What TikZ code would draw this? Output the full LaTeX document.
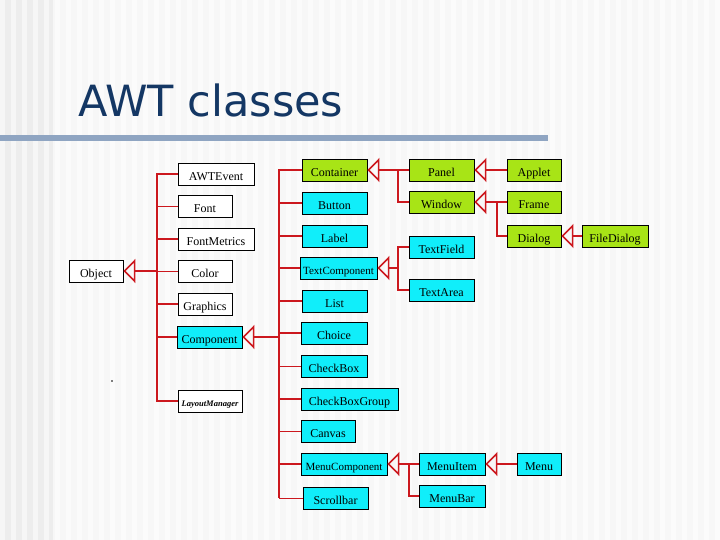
\documentclass[tikz,border=0pt]{standalone}
\usepackage{fontspec}
\setmainfont{Liberation Serif}
\newfontfamily\titlefont{DejaVu Sans}
\usetikzlibrary{arrows.meta}

\definecolor{linkred}{RGB}{204,24,30}
\definecolor{contgreen}{RGB}{168,228,22}
\definecolor{compcyan}{RGB}{16,238,250}
\definecolor{titleblue}{RGB}{20,55,100}
\definecolor{rulegray}{RGB}{143,165,194}

\begin{document}
\begin{tikzpicture}[x=1pt,y=-1pt,
    cls/.style={draw=black, line width=0.8pt, inner sep=0pt, minimum height=22pt,
        text height=13pt, text depth=0pt, font=\fontsize{12}{14}\selectfont},
    plaincls/.style={cls, fill=white},
    compcls/.style={cls, fill=compcyan},
    contcls/.style={cls, fill=contgreen},
    link/.style={draw=linkred, line width=1.6pt},
    thinlink/.style={draw=linkred, line width=0.8pt},
    inherit/.style={link, -{Triangle[open, length=12pt, width=24pt]}}]
    \useasboundingbox (0,0) rectangle (720,540);

    % Striped background
    \fill[gray!6] (0,0) rectangle (720,540);
    \fill[gray!14] (0,0) rectangle (53,540);
    \foreach \x in {0,11,...,715}
        \fill[white, opacity=0.5] (\x,0) rectangle ++(5,540);

    % Title and rule
    \node[anchor=base west, inner sep=0pt, text=titleblue,
        font=\titlefont\fontsize{43}{50}\selectfont] (title) at (78,117) {AWT classes};
    \fill[rulegray] (0,135) rectangle (548,141);

    % Root and first level
    \node[plaincls, minimum width=54pt] (object) at (96,271) {Object};
    \node[plaincls, minimum width=76pt] (awtevent) at (216,174) {AWTEvent};
    \node[plaincls, minimum width=54pt] (font) at (205,206) {Font};
    \node[plaincls, minimum width=76pt] (fontmetrics) at (216,239) {FontMetrics};
    \node[plaincls, minimum width=54pt] (color) at (205,271) {Color};
    \node[plaincls, minimum width=54pt] (graphics) at (205,304) {Graphics};
    \node[compcls, minimum width=65pt] (component) at (209.5,337) {Component};
    \node[plaincls, minimum width=64pt, text height=10pt,
        font=\fontsize{8.5}{10}\selectfont\bfseries\itshape]
        (layout) at (210,401) {LayoutManager};

    % Subclasses of Component
    \node[contcls, minimum width=65pt] (container) at (334.5,170) {Container};
    \node[compcls, minimum width=65pt] (button) at (334.5,203) {Button};
    \node[compcls, minimum width=65pt] (label) at (334.5,236) {Label};
    \node[compcls, minimum width=77pt, font=\fontsize{11}{13}\selectfont]
        (textcomp) at (338.5,268) {TextComponent};
    \node[compcls, minimum width=65pt] (list) at (334.5,301) {List};
    \node[compcls, minimum width=66pt] (choice) at (334,333) {Choice};
    \node[compcls, minimum width=66pt] (checkbox) at (334,366) {CheckBox};
    \node[compcls, minimum width=97pt] (checkboxgroup) at (349.5,399) {CheckBoxGroup};
    \node[compcls, minimum width=54pt] (canvas) at (328,431) {Canvas};
    \node[compcls, minimum width=86pt, font=\fontsize{11}{13}\selectfont]
        (menucomp) at (344,464) {MenuComponent};
    \node[compcls, minimum width=65pt] (scrollbar) at (335.5,498) {Scrollbar};

    % Deeper levels
    \node[contcls, minimum width=65pt] (panel) at (441.5,170) {Panel};
    \node[contcls, minimum width=65pt] (window) at (441.5,202) {Window};
    \node[compcls, minimum width=65pt] (textfield) at (441.5,247) {TextField};
    \node[compcls, minimum width=65pt] (textarea) at (441.5,290) {TextArea};
    \node[compcls, minimum width=66pt] (menuitem) at (452,464) {MenuItem};
    \node[compcls, minimum width=66pt] (menubar) at (452,496) {MenuBar};
    \node[contcls, minimum width=54pt] (applet) at (534,170) {Applet};
    \node[contcls, minimum width=54pt] (frame) at (534,202) {Frame};
    \node[contcls, minimum width=54pt] (dialog) at (534,236) {Dialog};
    \node[contcls, minimum width=66pt] (filedialog) at (615,236) {FileDialog};
    \node[compcls, minimum width=44pt] (menu) at (539,464) {Menu};

    % Trunk positions
    \coordinate (ltrunk) at (157,0);
    \coordinate (rtrunk) at (279,0);
    \coordinate (ctrunk) at (398,0);
    \coordinate (wtrunk) at (497,0);
    \coordinate (mtrunk) at (409,0);

    % Object tree
    \draw[link] (awtevent.west) -- (awtevent.west -| ltrunk) -- (layout.west -| ltrunk) -- (layout.west);
    \foreach \n in {fontmetrics,graphics,component}
        \draw[link] (\n.west) -- (\n.west -| ltrunk);
    \foreach \n in {font,color}
        \draw[thinlink] (\n.west) -- (\n.west -| ltrunk);
    \draw[inherit] (object.east -| ltrunk) -- (object.east);

    % Component tree
    \draw[link] (container.west) -- (container.west -| rtrunk) -- (scrollbar.west -| rtrunk);
    \foreach \n in {button,label,textcomp,list,choice,checkboxgroup,menucomp}
        \draw[link] (\n.west) -- (\n.west -| rtrunk);
    \foreach \n in {checkbox,canvas,scrollbar}
        \draw[thinlink] (\n.west) -- (\n.west -| rtrunk);
    \draw[inherit] (component.east -| rtrunk) -- (component.east);

    % Container tree
    \draw[inherit] (panel.west) -- (container.east);
    \draw[link] (panel.west) -- (panel.west -| ctrunk) |- (window.west);
    \draw[inherit] (applet.west) -- (panel.east);
    \draw[inherit] (frame.west) -- (window.east);
    \draw[link] (frame.west) -- (frame.west -| wtrunk) |- (dialog.west);
    \draw[inherit] (filedialog.west) -- (dialog.east);

    % Text tree
    \draw[inherit] (textcomp.east -| ctrunk) -- (textcomp.east);
    \draw[link] (textfield.west) -- (textfield.west -| ctrunk) |- (textarea.west);

    % Menu tree
    \draw[inherit] (menuitem.west) -- (menucomp.east);
    \draw[link] (menuitem.west) -- (menuitem.west -| mtrunk) |- (menubar.west);
    \draw[inherit] (menu.west) -- (menuitem.east);

    % Stray dot
    \fill (112,381) circle (0.8);
\end{tikzpicture}
\end{document}
